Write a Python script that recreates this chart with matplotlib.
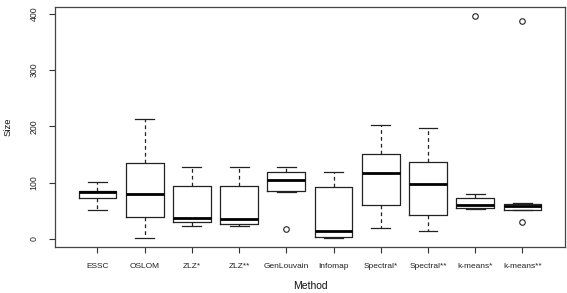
import numpy as np
import matplotlib
matplotlib.use("Agg")
import matplotlib.pyplot as plt

methods = ["ESSC", "OSLOM", "ZLZ*", "ZLZ**", "GenLouvain", "Infomap",
           "Spectral*", "Spectral**", "k-means*", "k-means**"]
# five-number summaries
whislo = [51, 2, 22.5, 22.5, 83.5, 2.4, 19, 13.7, 52.8, 51.5]
q1 = [72.3, 38.5, 30.2, 27.2, 85.3, 3.6, 59.8, 42, 54.5, 51.5]
med = [83, 80, 37.3, 35.5, 104.8, 14.2, 117.8, 98.2, 61, 58.6]
q3 = [85.3, 135, 93.6, 93.6, 119, 93, 151.5, 136.8, 72.3, 62.7]
whishi = [101.8, 212.6, 128.4, 128.4, 127.3, 119, 202, 196.6, 79.4, 64.5]
fliers = [[], [], [], [], [17.2], [], [], [], [395.6], [387.2, 30]]

plt.rcParams["font.family"] = ["Liberation Sans", "DejaVu Sans"]

stats = []
for i, m in enumerate(methods):
    stats.append(dict(label=m, whislo=whislo[i], q1=q1[i], med=med[i],
                      q3=q3[i], whishi=whishi[i], fliers=fliers[i]))

fig = plt.figure(figsize=(5.67, 2.93), dpi=100)
ax = fig.add_axes([55 / 567, 1 - 246.7 / 293, 510 / 567, 239.4 / 293])

ax.bxp(stats, positions=np.arange(1, len(methods) + 1), widths=0.8,
       boxprops=dict(color="#222222", linewidth=0.9),
       medianprops=dict(color="black", linewidth=2.0),
       whiskerprops=dict(color="#222222", linewidth=0.9, linestyle=(0, (3, 2.5))),
       capprops=dict(color="#222222", linewidth=0.9),
       capwidths=0.4,
       flierprops=dict(marker="o", markersize=4, markerfacecolor="none",
                       markeredgecolor="#222222", markeredgewidth=0.8))

ax.set_xlim(0.1, 10.9)
ax.set_ylim(-13.7, 411.5)
ax.set_yticks([0, 100, 200, 300, 400])
ax.set_yticklabels(["0", "100", "200", "300", "400"], rotation=90, va="center")
ax.tick_params(axis="both", direction="out", length=4, width=0.8,
               color="#333333", labelcolor="#222222")
ax.tick_params(axis="x", labelsize=6, pad=8)
ax.tick_params(axis="y", labelsize=6.3, pad=8)
for s in ax.spines.values():
    s.set_color("#444444")
    s.set_linewidth(0.9)

ax.set_xlabel("Method", fontsize=7.5, labelpad=7.5, color="#111111")
ax.set_ylabel("Size", fontsize=6.8, labelpad=12, color="#111111")

fig.savefig("out.png", dpi=100)
